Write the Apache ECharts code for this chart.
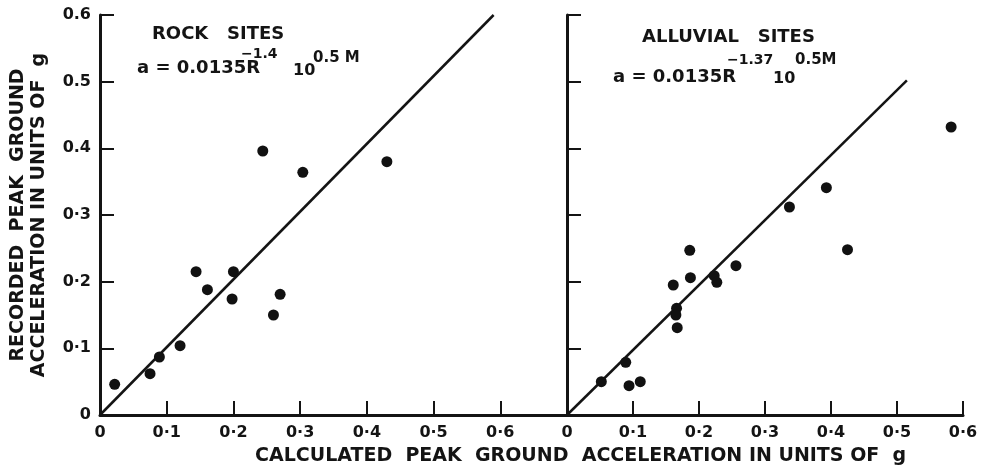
<!DOCTYPE html>
<html>
<head>
<meta charset="utf-8">
<script src="https://cdn.jsdelivr.net/npm/echarts@6/dist/echarts.min.js"></script>
<style>
html,body{margin:0;padding:0;background:#ffffff;}
#chart{width:983px;height:476px;}
</style>
</head>
<body>
<div id="chart"></div>
<script>
// Data
const rockCalculated = [0.022, 0.075, 0.089, 0.120, 0.144, 0.161, 0.200, 0.198, 0.260, 0.270, 0.244, 0.304, 0.430];
const rockRecorded   = [0.046, 0.062, 0.087, 0.104, 0.215, 0.188, 0.215, 0.174, 0.150, 0.181, 0.396, 0.364, 0.380];
const rockFitX = [0, 0.59];
const rockFitY = [0, 0.60];

const alluvialCalculated = [0.052, 0.089, 0.094, 0.111, 0.161, 0.166, 0.165, 0.167, 0.186, 0.187, 0.223, 0.227, 0.256, 0.425, 0.337, 0.393, 0.582];
const alluvialRecorded   = [0.050, 0.079, 0.044, 0.050, 0.195, 0.160, 0.150, 0.131, 0.247, 0.206, 0.209, 0.199, 0.224, 0.248, 0.312, 0.341, 0.432];
const alluvialFitX = [0, 0.515];
const alluvialFitY = [0, 0.502];

const yTicks = [0, 0.1, 0.2, 0.3, 0.4, 0.5, 0.6];
const xTickLabels = ['0', '0·1', '0·2', '0·3', '0·4', '0·5', '0·6'];
const yTickLabels = ['0', '0·1', '0·2', '0·3', '0.4', '0.5', '0.6'];

const panelTitles = ['ROCK   SITES', 'ALLUVIAL   SITES'];
const xTitle = 'CALCULATED  PEAK  GROUND  ACCELERATION IN UNITS OF  g';
const yTitle = 'RECORDED  PEAK  GROUND\nACCELERATION IN UNITS OF  g';

const pair = (xs, ys) => xs.map((x, i) => [x, ys[i]]);
const FONT = 'DejaVu Sans';
const INK = '#141414';

function idx(v) { return Math.round(v * 10); }

const axisLine = { show: true, lineStyle: { color: INK, width: 3 } };
const axisTick = { show: true, inside: true, length: 14, lineStyle: { color: INK, width: 2 } };

const chart = echarts.init(document.getElementById('chart'), null, { renderer: 'canvas' });
chart.setOption({
  backgroundColor: '#ffffff',
  animation: false,
  grid: [
    { left: 100, top: 15, width: 467, height: 400 },
    { left: 567, top: 15, width: 396, height: 400 }
  ],
  xAxis: [
    {
      gridIndex: 0, type: 'value', min: 0, max: 0.7, interval: 0.1,
      axisLine: axisLine, axisTick: axisTick, splitLine: { show: false },
      axisLabel: {
        margin: 10, color: INK, fontFamily: FONT, fontWeight: 'bold', fontSize: 16,
        formatter: v => (v > 0.65 ? '' : xTickLabels[idx(v)])
      }
    },
    {
      gridIndex: 1, type: 'value', min: 0, max: 0.6, interval: 0.1,
      axisLine: axisLine, axisTick: axisTick, splitLine: { show: false },
      axisLabel: {
        margin: 10, color: INK, fontFamily: FONT, fontWeight: 'bold', fontSize: 16,
        formatter: v => xTickLabels[idx(v)]
      }
    }
  ],
  yAxis: [
    {
      gridIndex: 0, type: 'value', min: 0, max: 0.6, interval: 0.1,
      axisLine: axisLine, axisTick: axisTick, splitLine: { show: false },
      axisLabel: {
        margin: 9, color: INK, fontFamily: FONT, fontWeight: 'bold', fontSize: 16,
        formatter: v => yTickLabels[idx(v)]
      },
      name: yTitle, nameLocation: 'middle', nameGap: 50, nameRotate: 90,
      nameTextStyle: { color: INK, fontFamily: FONT, fontWeight: 'bold', fontSize: 19, lineHeight: 21 }
    },
    {
      gridIndex: 1, type: 'value', min: 0, max: 0.6, interval: 0.1,
      axisLine: axisLine, axisTick: axisTick, splitLine: { show: false },
      axisLabel: { show: false }
    }
  ],
  series: [
    {
      type: 'line', xAxisIndex: 0, yAxisIndex: 0, data: pair(rockFitX, rockFitY),
      symbol: 'none', lineStyle: { color: INK, width: 2.5 }, silent: true, z: 2
    },
    {
      type: 'scatter', xAxisIndex: 0, yAxisIndex: 0, data: pair(rockCalculated, rockRecorded),
      symbol: 'circle', symbolSize: 11, itemStyle: { color: '#111111', opacity: 1 }, z: 3
    },
    {
      type: 'line', xAxisIndex: 1, yAxisIndex: 1, data: pair(alluvialFitX, alluvialFitY),
      symbol: 'none', lineStyle: { color: INK, width: 2.5 }, silent: true, z: 2
    },
    {
      type: 'scatter', xAxisIndex: 1, yAxisIndex: 1, data: pair(alluvialCalculated, alluvialRecorded),
      symbol: 'circle', symbolSize: 11, itemStyle: { color: '#111111', opacity: 1 }, z: 3
    }
  ],
  graphic: [
    { type: 'text', left: 152, top: 25, style: { text: panelTitles[0], fill: INK, font: 'bold 18px "DejaVu Sans"' } },
    { type: 'text', left: 137, top: 59, style: { text: 'a = 0.0135R', fill: INK, font: 'bold 18px "DejaVu Sans"' } },
    { type: 'text', left: 241, top: 47, style: { text: '−1.4', fill: INK, font: 'bold 14px "DejaVu Sans"' } },
    { type: 'text', left: 293, top: 63, style: { text: '10', fill: INK, font: 'bold 16px "DejaVu Sans"' } },
    { type: 'text', left: 313, top: 51, style: { text: '0.5 M', fill: INK, font: 'bold 15px "DejaVu Sans"' } },

    { type: 'text', left: 642, top: 28, style: { text: panelTitles[1], fill: INK, font: 'bold 18px "DejaVu Sans"' } },
    { type: 'text', left: 613, top: 68, style: { text: 'a = 0.0135R', fill: INK, font: 'bold 18px "DejaVu Sans"' } },
    { type: 'text', left: 727, top: 53, style: { text: '−1.37', fill: INK, font: 'bold 14px "DejaVu Sans"' } },
    { type: 'text', left: 773, top: 71, style: { text: '10', fill: INK, font: 'bold 16px "DejaVu Sans"' } },
    { type: 'text', left: 795, top: 53, style: { text: '0.5M', fill: INK, font: 'bold 15px "DejaVu Sans"' } },

    { type: 'text', left: 255, top: 447, style: { text: xTitle, fill: INK, font: 'bold 19px "DejaVu Sans"' } }
  ]
});
</script>
</body>
</html>
